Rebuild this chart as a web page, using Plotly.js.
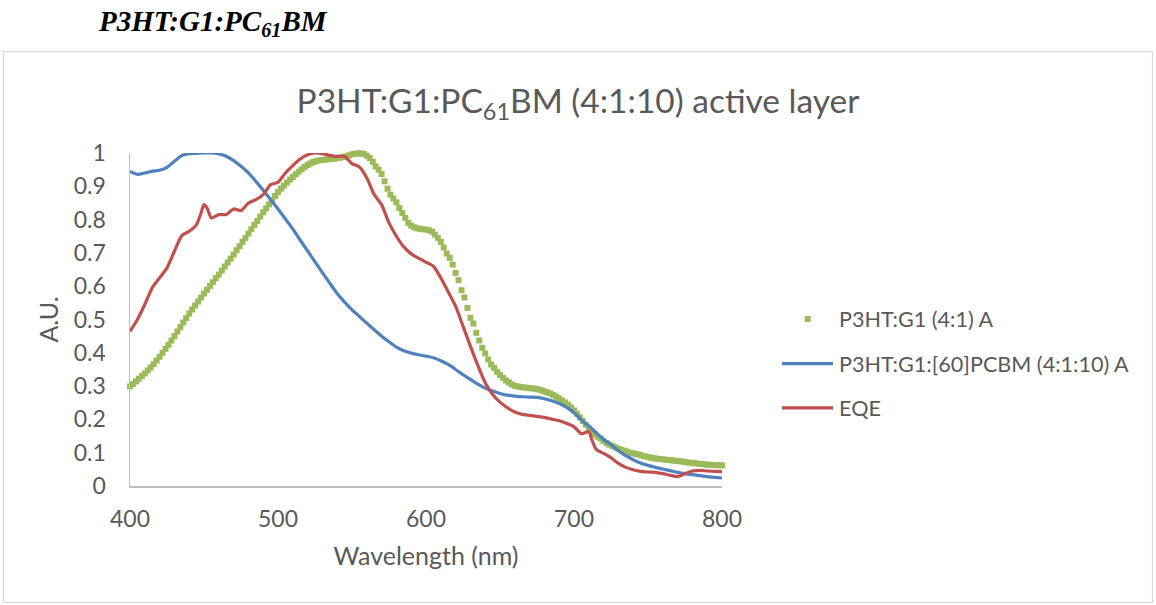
<!DOCTYPE html>
<html><head><meta charset="utf-8">
<script src="https://cdn.plot.ly/plotly-3.0.1.min.js"></script>
<style>html,body{margin:0;padding:0;background:#fff;} #chart{width:1156px;height:605px;}</style>
</head><body><div id="chart"></div>
<script>
// ---- Data ----
const greenName = 'P3HT:G1 (4:1) A';
const greenWl = [400,402,404,406,408,410,412,414,416,418,
420,422,424,426,428,430,432,434,436,438,
440,442,444,446,448,450,452,454,456,458,
460,462,464,466,468,470,472,474,476,478,
480,482,484,486,488,490,492,494,496,498,
500,502,504,506,508,510,512,514,516,518,
520,522,524,526,528,530,532,534,536,538,
540,542,544,546,548,550,552,554,556,558,
560,562,564,566,568,570,572,574,576,578,
580,582,584,586,588,590,592,594,596,598,
600,602,604,606,608,610,612,614,616,618,
620,622,624,626,628,630,632,634,636,638,
640,642,644,646,648,650,652,654,656,658,
660,662,664,666,668,670,672,674,676,678,
680,682,684,686,688,690,692,694,696,698,
700,702,704,706,708,710,712,714,716,718,
720,722,724,726,728,730,732,734,736,738,
740,742,744,746,748,750,752,754,756,758,
760,762,764,766,768,770,772,774,776,778,
780,782,784,786,788,790,792,794,796,798,
800];
const greenVal = [0.299,0.306,0.314,0.322,0.330,0.338,0.347,0.356,0.366,0.377,
0.388,0.400,0.412,0.424,0.437,0.450,0.464,0.477,0.491,0.504,
0.518,0.530,0.542,0.554,0.566,0.578,0.589,0.601,0.612,0.624,
0.635,0.647,0.659,0.671,0.683,0.695,0.708,0.720,0.733,0.745,
0.758,0.771,0.784,0.796,0.809,0.822,0.834,0.846,0.859,0.871,
0.883,0.893,0.902,0.911,0.920,0.928,0.936,0.944,0.951,0.958,
0.964,0.969,0.973,0.976,0.978,0.979,0.980,0.981,0.982,0.983,
0.985,0.986,0.988,0.990,0.993,0.996,0.998,0.999,0.999,0.997,
0.992,0.985,0.974,0.960,0.950,0.937,0.915,0.893,0.875,0.863,
0.852,0.835,0.820,0.805,0.790,0.782,0.777,0.774,0.772,0.771,
0.770,0.768,0.764,0.755,0.745,0.733,0.716,0.698,0.685,0.665,
0.640,0.618,0.588,0.566,0.535,0.505,0.488,0.460,0.437,0.415,
0.398,0.380,0.365,0.355,0.343,0.333,0.325,0.317,0.311,0.305,
0.301,0.299,0.297,0.296,0.295,0.294,0.293,0.292,0.290,0.287,
0.284,0.281,0.278,0.273,0.268,0.263,0.257,0.251,0.244,0.236,
0.227,0.217,0.206,0.195,0.184,0.172,0.163,0.155,0.148,0.142,
0.135,0.129,0.124,0.120,0.116,0.112,0.109,0.106,0.103,0.100,
0.098,0.096,0.094,0.091,0.089,0.087,0.085,0.083,0.082,0.081,
0.080,0.079,0.078,0.077,0.076,0.075,0.074,0.073,0.071,0.070,
0.069,0.068,0.067,0.066,0.065,0.064,0.064,0.063,0.063,0.062,
0.062];

const blueName = 'P3HT:G1:[60]PCBM (4:1:10) A';
const blueWl = [400,405,410,415,420,425,430,435,440,445,450,455,460,465,470,475,480,485,490,495,
500,505,510,515,520,525,530,535,540,545,550,555,560,565,570,575,580,585,590,595,
600,605,610,615,620,625,630,635,640,645,650,655,660,665,670,675,680,685,690,695,
700,705,710,715,720,725,730,735,740,745,750,755,760,765,770,775,780,785,790,795,800];
const blueVal = [0.945,0.936,0.940,0.945,0.948,0.957,0.975,0.992,0.998,0.999,1.000,1.000,0.997,0.990,0.977,0.960,0.940,0.915,0.888,0.860,
0.832,0.802,0.772,0.738,0.706,0.673,0.641,0.609,0.578,0.552,0.529,0.509,0.489,0.469,0.450,0.433,0.417,0.406,0.399,0.394,
0.390,0.385,0.376,0.365,0.350,0.334,0.320,0.306,0.294,0.285,0.278,0.273,0.270,0.268,0.267,0.266,0.262,0.256,0.248,0.236,
0.220,0.198,0.180,0.160,0.140,0.124,0.106,0.091,0.079,0.069,0.062,0.056,0.051,0.046,0.041,0.037,0.034,0.031,0.028,0.026,0.024];

const redName = 'EQE';
const redWl = [400,405,410,415,420,425,430,435,440,445,448,450,452,455,460,465,470,475,480,485,490,495,
500,505,510,515,520,525,530,535,540,545,550,555,560,565,570,575,580,585,590,595,
600,605,610,615,620,625,630,635,640,645,650,655,660,665,670,675,680,685,690,695,
700,705,708,710,712,715,720,725,730,735,740,745,750,755,760,765,770,775,780,785,790,795,800];
const redVal = [0.464,0.500,0.545,0.595,0.625,0.655,0.705,0.752,0.765,0.785,0.820,0.845,0.835,0.805,0.815,0.815,0.832,0.827,0.850,0.860,0.875,0.905,
0.912,0.940,0.962,0.982,0.995,1.000,0.998,0.993,0.990,0.990,0.968,0.958,0.925,0.875,0.845,0.790,0.750,0.718,0.697,0.684,
0.672,0.660,0.625,0.583,0.540,0.480,0.420,0.362,0.310,0.275,0.252,0.235,0.222,0.215,0.212,0.209,0.206,0.201,0.196,0.188,
0.178,0.157,0.161,0.164,0.140,0.110,0.098,0.085,0.068,0.056,0.049,0.044,0.042,0.041,0.037,0.032,0.028,0.037,0.045,0.047,0.045,0.044,0.043];

const xTicks = [400,500,600,700,800];
const chartTitle = 'P3HT:G1:PC<sub>61</sub>BM (4:1:10) active layer';
const pageHeading = '<b><i>P3HT:G1:PC<sub>61</sub>BM</i></b>';
const xTitle = 'Wavelength (nm)';
const yTitle = 'A.U.';

// ---- Layout geometry (pixels) ----
const W = 1156, H = 605;
const PL = 130, PR = 722, PT = 153, PB = 486.5;
const px = x => (x - PL) / (PR - PL);
const py = y => (PB - y) / (PB - PT);

const GREEN = '#9bbb59', BLUE = '#4f81bd', RED = '#c0504d', TXT = '#595959', AX = '#bfbfbf';
const FONT = 'Lato, "Open Sans", sans-serif';

const traces = [
  {x: greenWl, y: greenVal, name: greenName, type: 'scatter', mode: 'markers',
   marker: {symbol: 'square', size: 6, color: GREEN}, cliponaxis: false},
  {x: blueWl, y: blueVal, name: blueName, type: 'scatter', mode: 'lines',
   line: {color: BLUE, width: 3.2, shape: 'spline', smoothing: 0.8}, cliponaxis: false},
  {x: redWl, y: redVal, name: redName, type: 'scatter', mode: 'lines',
   line: {color: RED, width: 3.2, shape: 'spline', smoothing: 0.6}, cliponaxis: false}
];

const legendY = [319.3, 364, 408.3];
const legendNames = [greenName, blueName, redName];

const shapes = [
  {type: 'rect', xref: 'paper', yref: 'paper', x0: px(3.5), x1: px(1152.5), y0: py(603), y1: py(51.5),
   line: {color: '#d9d9d9', width: 1.2}, fillcolor: 'rgba(0,0,0,0)', layer: 'below'},
  {type: 'rect', xref: 'paper', yref: 'paper', x0: px(804.7), x1: px(810.7), y0: py(legendY[0]+3), y1: py(legendY[0]-3),
   line: {width: 0}, fillcolor: GREEN},
  {type: 'line', xref: 'paper', yref: 'paper', x0: px(782), x1: px(833), y0: py(legendY[1]), y1: py(legendY[1]),
   line: {color: BLUE, width: 3.2}},
  {type: 'line', xref: 'paper', yref: 'paper', x0: px(782), x1: px(833), y0: py(legendY[2]), y1: py(legendY[2]),
   line: {color: RED, width: 3.2}}
];

const annotations = legendNames.map((n, i) => ({
  text: n, xref: 'paper', yref: 'paper', x: px(837), y: py(legendY[i]), xanchor: 'left', yanchor: 'middle',
  showarrow: false, font: {family: FONT, size: 21.6, color: TXT}
}));
annotations.push({
  text: pageHeading, xref: 'paper', yref: 'paper', x: px(96), y: py(23), xanchor: 'left', yanchor: 'middle',
  showarrow: false, font: {family: '"Liberation Serif", "Times New Roman", serif', size: 29, color: '#000'}
});

const layout = {
  width: W, height: H,
  margin: {l: PL, r: W - PR, t: PT, b: H - PB, pad: 0},
  paper_bgcolor: '#fff', plot_bgcolor: '#fff',
  showlegend: false,
  title: {text: chartTitle, x: 578 / W, xref: 'container', xanchor: 'center',
          y: 1 - 101 / H, yref: 'container', yanchor: 'middle',
          font: {family: FONT, size: 33.5, color: TXT}},
  xaxis: {range: [400, 800], tickvals: xTicks, showgrid: false, zeroline: false,
          showline: true, linecolor: AX, linewidth: 1.5, ticks: '', ticklabelstandoff: 12,
          tickfont: {family: FONT, size: 23, color: TXT},
          title: {text: xTitle, font: {family: FONT, size: 25, color: TXT}, standoff: 16},
          automargin: false, fixedrange: true},
  yaxis: {range: [0, 1], dtick: 0.1, tick0: 0, showgrid: false, zeroline: false,
          showline: true, linecolor: AX, linewidth: 1.5, ticks: '', ticklabelstandoff: 18,
          tickfont: {family: FONT, size: 23, color: TXT},
          title: {text: yTitle, font: {family: FONT, size: 25, color: TXT}, standoff: 8},
          automargin: false, fixedrange: true},
  shapes: shapes,
  annotations: annotations
};

Plotly.newPlot('chart', traces, layout, {displayModeBar: false, staticPlot: true});
</script>
</body></html>
